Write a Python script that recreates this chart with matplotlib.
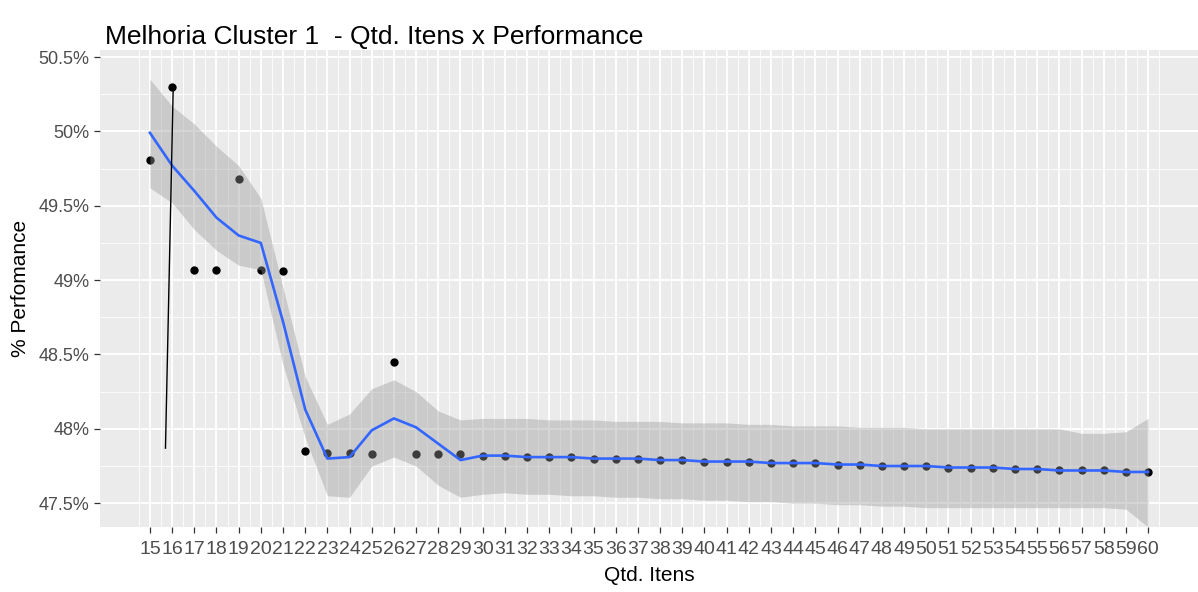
import numpy as np
import matplotlib.pyplot as plt
from matplotlib.ticker import FixedLocator

plt.rcParams['font.family'] = ['Liberation Sans', 'DejaVu Sans']

# quantidade de itens e % de performance observada
qtd_itens = list(range(15, 61))
performance = [49.81, 50.30, 49.07, 49.07, 49.68, 49.07, 49.06, 47.85, 47.84, 47.84,
               47.83, 48.45, 47.83, 47.83, 47.83, 47.82, 47.82, 47.81, 47.81, 47.81,
               47.80, 47.80, 47.80, 47.79, 47.79, 47.78, 47.78, 47.78, 47.77, 47.77,
               47.77, 47.76, 47.76, 47.75, 47.75, 47.75, 47.74, 47.74, 47.74, 47.73,
               47.73, 47.72, 47.72, 47.72, 47.71, 47.71]

# curva suavizada (loess) e intervalo de confiança
suavizado = [49.99, 49.77, 49.60, 49.42, 49.30, 49.25, 48.72, 48.13, 47.80, 47.81,
             47.99, 48.07, 48.01, 47.90, 47.79, 47.82, 47.82, 47.81, 47.81, 47.81,
             47.80, 47.80, 47.80, 47.79, 47.79, 47.78, 47.78, 47.78, 47.77, 47.77,
             47.77, 47.76, 47.76, 47.75, 47.75, 47.75, 47.74, 47.74, 47.74, 47.73,
             47.73, 47.72, 47.72, 47.72, 47.71, 47.71]
ic_sup = [50.35, 50.17, 50.05, 49.90, 49.77, 49.55, 48.95, 48.35, 48.03, 48.10,
          48.27, 48.33, 48.25, 48.12, 48.06, 48.07, 48.07, 48.07, 48.06, 48.06,
          48.06, 48.05, 48.05, 48.05, 48.04, 48.04, 48.04, 48.03, 48.03, 48.02,
          48.02, 48.02, 48.01, 48.01, 48.01, 48.00, 48.00, 48.00, 48.00, 48.00,
          48.00, 48.00, 47.97, 47.97, 47.98, 48.07]
ic_inf = [49.62, 49.52, 49.34, 49.20, 49.10, 49.07, 48.43, 47.94, 47.55, 47.54,
          47.75, 47.81, 47.75, 47.62, 47.54, 47.56, 47.57, 47.56, 47.56, 47.55,
          47.55, 47.54, 47.54, 47.53, 47.53, 47.52, 47.52, 47.51, 47.51, 47.50,
          47.50, 47.49, 47.49, 47.48, 47.48, 47.47, 47.47, 47.47, 47.47, 47.47,
          47.47, 47.47, 47.47, 47.47, 47.46, 47.34]

# segmento de referência
seg_x = [16.05, 15.7]
seg_y = [50.30, 47.87]

y_ticks = [47.5, 48.0, 48.5, 49.0, 49.5, 50.0, 50.5]
y_labels = ['47.5%', '48%', '48.5%', '49%', '49.5%', '50%', '50.5%']

fig = plt.figure(figsize=(11.98, 5.92), dpi=100)
ax = fig.add_axes([0.0835, 0.1098, 0.9165, 0.8057])
ax.set_facecolor('#EBEBEB')
for s in ax.spines.values():
    s.set_visible(False)

ax.set_xlim(12.75, 62.25)
ax.set_ylim(47.34, 50.547)

ax.set_xticks(qtd_itens)
ax.set_xticklabels([str(v) for v in qtd_itens])
ax.xaxis.set_minor_locator(FixedLocator(np.arange(14.5, 61, 1.0)))
ax.set_yticks(y_ticks)
ax.set_yticklabels(y_labels)
ax.yaxis.set_minor_locator(FixedLocator(np.arange(47.25, 50.6, 0.5)))

ax.grid(which='major', color='white', linewidth=1.3)
ax.grid(which='minor', color='white', linewidth=0.6)
ax.set_axisbelow(True)
ax.tick_params(which='major', length=4, width=0.9, color='#333333',
               labelsize=13, labelcolor='#4D4D4D')
ax.tick_params(axis='x', which='major', labelsize=14, pad=6)
ax.tick_params(which='minor', length=0)

ax.scatter(qtd_itens, performance, s=36, color='black', zorder=2, linewidths=0)
ax.fill_between(qtd_itens, ic_inf, ic_sup, color='#999999', alpha=0.4,
                linewidth=0, zorder=3)
ax.plot(qtd_itens, suavizado, color='#3366FF', linewidth=1.9, zorder=4)
ax.plot(seg_x, seg_y, color='black', linewidth=1.0, zorder=5)

ax.set_xlabel('Qtd. Itens', fontsize=15, color='black', labelpad=6)
ax.set_ylabel('% Perfomance', fontsize=15, color='black', labelpad=6)
fig.text(105 / 1198, 1 - 37 / 592, 'Melhoria Cluster 1  - Qtd. Itens x Performance',
         fontsize=19, color='black', ha='left', va='center')

fig.savefig('out.png', dpi=100)
